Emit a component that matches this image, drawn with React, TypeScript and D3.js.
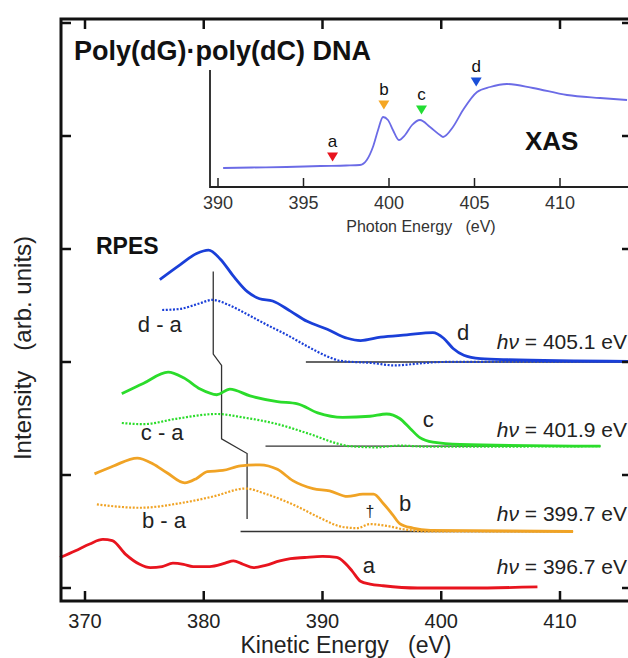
import React from 'react';
import * as d3 from 'd3';

const W = 628;
const H = 658;
const FONT = '"Liberation Sans", Arial, Helvetica, sans-serif';

// main panel, [kinetic energy (eV), intensity (arb. units)]
const rpesA = [
  [367.9, 0.27], [369.2, 0.33], [370.4, 0.39], [371.5, 0.43], [372.3, 0.42], [373.4, 0.3],
  [374.6, 0.21], [375.5, 0.18], [376.5, 0.19], [377.4, 0.22], [378.3, 0.21], [379.1, 0.19],
  [380.5, 0.19], [381.8, 0.22], [382.5, 0.24], [383.3, 0.21], [384.2, 0.18], [385.2, 0.2],
  [386.4, 0.24], [387.3, 0.26], [388.5, 0.27], [390.0, 0.28], [391.2, 0.27], [391.9, 0.22],
  [392.5, 0.15], [393.2, 0.06], [394.0, 0.035], [395.1, 0.02], [398.0, 0.0], [402.4, 0.0],
  [408.1, 0.01],
];
const rpesB = [
  [370.8, 1.01], [372.4, 1.08], [374.4, 1.15], [375.7, 1.1], [376.9, 1.02], [378.4, 0.93],
  [379.4, 0.97], [380.3, 1.03], [381.6, 1.04], [383.1, 1.08], [384.7, 1.09], [386.2, 1.05],
  [387.5, 0.95], [389.2, 0.88], [390.6, 0.86], [392.1, 0.81], [393.4, 0.83], [394.3, 0.83],
  [395.1, 0.75], [395.9, 0.65], [396.5, 0.57], [397.6, 0.53], [399.1, 0.51], [411.1, 0.5],
];
const diffB = [
  [371.0, 0.74], [374.6, 0.71], [378.0, 0.75], [380.8, 0.81], [383.5, 0.88], [385.3, 0.83],
  [387.9, 0.72], [389.8, 0.62], [391.7, 0.54], [392.9, 0.53], [394.0, 0.565], [395.4, 0.55],
  [396.8, 0.52], [399.1, 0.5], [411.1, 0.5],
];
const rpesC = [
  [373.1, 1.72], [374.9, 1.81], [377.0, 1.91], [378.3, 1.86], [379.7, 1.76], [381.1, 1.71],
  [382.2, 1.76], [383.9, 1.7], [386.2, 1.65], [387.9, 1.63], [389.6, 1.55], [391.7, 1.51],
  [394.0, 1.52], [395.4, 1.54], [396.5, 1.5], [397.4, 1.41], [398.2, 1.33], [399.3, 1.29],
  [401.6, 1.27], [413.4, 1.255],
];
const diffC = [
  [373.1, 1.46], [374.9, 1.45], [377.8, 1.5], [381.1, 1.54], [383.3, 1.51], [386.2, 1.45],
  [389.0, 1.36], [391.2, 1.28], [392.3, 1.255], [394.5, 1.245], [396.5, 1.26], [399.0, 1.25],
  [413.4, 1.255],
];
const rpesD = [
  [376.3, 2.73], [378.0, 2.86], [379.4, 2.96], [380.4, 2.99], [381.4, 2.91], [382.5, 2.76],
  [383.7, 2.62], [384.7, 2.56], [385.8, 2.54], [387.3, 2.45], [388.7, 2.36], [390.4, 2.29],
  [392.1, 2.21], [393.2, 2.19], [394.9, 2.22], [397.1, 2.24], [399.3, 2.26], [400.2, 2.21],
  [401.0, 2.12], [401.9, 2.06], [403.3, 2.03], [405.6, 2.02], [416.0, 2.005],
];
const diffD = [
  [376.5, 2.46], [378.0, 2.47], [379.7, 2.52], [380.7, 2.55], [382.0, 2.51], [383.7, 2.42],
  [385.3, 2.33], [387.0, 2.24], [388.7, 2.14], [390.4, 2.05], [391.5, 2.01], [394.3, 1.99],
  [396.0, 1.97], [398.5, 1.99], [399.9, 2.0], [416.0, 2.005],
];

// zero lines of the difference spectra: [start, end, level]
const baselines = [
  [388.6, 416.0, 2.0],
  [385.2, 413.4, 1.255],
  [383.1, 411.1, 0.5],
];

// peak shift guide through the difference-spectrum maxima
const peakGuide = [
  [380.8, 2.8], [380.8, 2.07], [381.5, 1.97], [381.5, 1.32], [383.65, 1.19], [383.65, 0.61],
];

const keTicks = [370, 380, 390, 400, 410];
const intTicks = [0, 1, 2, 3, 4, 5];

// curve labels: [text, energy, intensity]
const curveLabels = [
  ['d - a', 376.3, 2.33], ['c - a', 376.5, 1.38], ['b - a', 376.65, 0.6],
  ['d', 401.85, 2.26], ['c', 398.9, 1.49], ['b', 396.95, 0.75], ['a', 393.9, 0.2],
];
const photonLabels = [
  ['405.1', 2.18], ['401.9', 1.4], ['399.7', 0.66], ['396.7', 0.19],
];

// inset XAS, [photon energy (eV), intensity]
const xas = [
  [390.3, 0.19], [392.0, 0.195], [394.0, 0.2], [396.0, 0.21], [397.5, 0.215], [398.3, 0.22],
  [398.7, 0.27], [399.06, 0.4], [399.36, 0.57], [399.65, 0.7], [399.94, 0.67], [400.23, 0.57],
  [400.58, 0.47], [400.94, 0.52], [401.35, 0.62], [401.81, 0.67], [402.4, 0.6], [402.98, 0.52],
  [403.16, 0.5], [403.74, 0.6], [404.33, 0.77], [405.15, 0.95], [405.91, 1.0], [406.9, 1.03],
  [408.42, 0.99], [410.41, 0.92], [412.34, 0.89], [413.92, 0.87],
];
const xasTicks = [390, 395, 400, 405, 410];
const markers = [
  ['a', 396.7, 0.3, '#e8141e'],
  ['b', 399.7, 0.82, '#f5a623'],
  ['c', 401.9, 0.77, '#22dd33'],
  ['d', 405.1, 1.05, '#1a4fd8'],
];

const BLUE = '#1a3fd8';
const GREEN = '#2bdc2b';
const ORANGE = '#f0a325';
const RED = '#e8141e';

export default function App() {
  const left = 61, right = 632, top = 19, bottom = 601;
  const x = d3.scaleLinear().domain([370, 410]).range([85, 560]);
  const y = d3.scaleLinear().domain([0, 5]).range([588, 23]);

  const ix = d3.scaleLinear().domain([390, 410]).range([218, 560]);
  const iy = d3.scaleLinear().domain([0, 1]).range([187, 87]);
  const iLeft = 210, iTop = 70, iBottom = 187;

  const line = d3.line<number[]>().x(d => x(d[0])).y(d => y(d[1])).curve(d3.curveMonotoneX);
  const poly = d3.line<number[]>().x(d => x(d[0])).y(d => y(d[1]));
  const xasLine = d3.line<number[]>().x(d => ix(d[0])).y(d => iy(d[1])).curve(d3.curveMonotoneX);

  const solid = [
    [rpesA, RED], [rpesB, ORANGE], [rpesC, GREEN], [rpesD, BLUE],
  ] as [number[][], string][];
  const dotted = [
    [diffB, ORANGE], [diffC, GREEN], [diffD, BLUE],
  ] as [number[][], string][];

  return (
    <svg width={W} height={H} style={{ position: 'absolute', left: 0, top: 0, background: '#fff' }}
      fontFamily={FONT}>
      <rect width={W} height={H} fill="#fff" />

      {/* baselines and guide */}
      {baselines.map((b, i) => (
        <line key={'bl' + i} x1={x(b[0])} x2={x(b[1])} y1={y(b[2])} y2={y(b[2])}
          stroke="#333" strokeWidth={1.3} />
      ))}
      <path d={poly(peakGuide) || ''} fill="none" stroke="#333" strokeWidth={1.3} />

      {/* difference spectra */}
      {dotted.map(([d, c], i) => (
        <path key={'dt' + i} d={line(d) || ''} fill="none" stroke={c} strokeWidth={2.2}
          strokeDasharray="2 1.6" />
      ))}
      {/* RPES spectra */}
      {solid.map(([d, c], i) => (
        <path key={'sl' + i} d={line(d) || ''} fill="none" stroke={c} strokeWidth={2.8}
          strokeLinejoin="round" />
      ))}

      {/* frame */}
      <path d={`M${right},${top}H${left}V${bottom}H${right}`} fill="none" stroke="#111" strokeWidth={3} />
      {keTicks.map(t => (
        <g key={'kt' + t}>
          <line x1={x(t)} x2={x(t)} y1={bottom} y2={bottom - 10} stroke="#111" strokeWidth={2.5} />
          <line x1={x(t)} x2={x(t)} y1={top} y2={top + 10} stroke="#111" strokeWidth={2.5} />
          <text x={x(t)} y={bottom + 27} fontSize={20} textAnchor="middle" fill="#222">{t}</text>
        </g>
      ))}
      {intTicks.map(t => (
        <g key={'it' + t}>
          <line x1={left} x2={left + 10} y1={y(t)} y2={y(t)} stroke="#111" strokeWidth={2.5} />
          <line x1={right - 10} x2={right} y1={y(t)} y2={y(t)} stroke="#111" strokeWidth={2.5} />
        </g>
      ))}
      <text x={346} y={653} fontSize={23} textAnchor="middle" fill="#222" style={{ whiteSpace: 'pre' }}>
        {'Kinetic Energy   (eV)'}
      </text>
      <text transform="translate(31,348) rotate(-90)" fontSize={24} textAnchor="middle" fill="#222"
        style={{ whiteSpace: 'pre' }}>
        {'Intensity   (arb. units)'}
      </text>

      {/* labels */}
      <text x={74} y={60} fontSize={27} fontWeight="bold" fill="#111">Poly(dG)·poly(dC) DNA</text>
      <text x={96} y={254} fontSize={23} fontWeight="bold" fill="#111">RPES</text>
      {curveLabels.map(([t, e, v]) => (
        <text key={'cl' + t} x={x(e as number)} y={y(v as number)} dy="0.35em" fontSize={22}
          textAnchor="middle" fill="#222" style={{ whiteSpace: 'pre' }}>{t}</text>
      ))}
      <text x={x(394.0)} y={y(0.68)} dy="0.35em" fontSize={16} textAnchor="middle" fill="#222">†</text>
      {photonLabels.map(([t, v]) => (
        <text key={'pl' + t} x={627} y={y(v as number)} dy="0.35em" fontSize={21}
          textAnchor="end" fill="#222">
          <tspan fontStyle="italic">hν</tspan>{` = ${t} eV`}
        </text>
      ))}

      {/* inset */}
      <path d={`M${iLeft},${iTop}V${iBottom}H${right}`} fill="none" stroke="#222" strokeWidth={1.8} />
      {xasTicks.map(t => (
        <g key={'xt' + t}>
          <line x1={ix(t)} x2={ix(t)} y1={iBottom} y2={iBottom - 9} stroke="#222" strokeWidth={1.5} />
          <text x={ix(t)} y={iBottom + 22} fontSize={18} textAnchor="middle" fill="#333">{t}</text>
        </g>
      ))}
      <text x={421} y={232} fontSize={16} textAnchor="middle" fill="#333" style={{ whiteSpace: 'pre' }}>
        {'Photon Energy   (eV)'}
      </text>
      <path d={xasLine(xas) || ''} fill="none" stroke="#6b6be6" strokeWidth={1.8} />
      {markers.map(([t, e, v, c]) => {
        const mx = ix(e as number), my = iy(v as number);
        return (
          <g key={'mk' + t}>
            <path d={`M${mx - 5.5},${my - 4.5}H${mx + 5.5}L${mx},${my + 4.5}Z`} fill={c as string} />
            <text x={mx} y={my - 10} fontSize={17} textAnchor="middle" fill="#111">{t}</text>
          </g>
        );
      })}
      <text x={525} y={150} fontSize={26} fontWeight="bold" fill="#111">XAS</text>
    </svg>
  );
}
